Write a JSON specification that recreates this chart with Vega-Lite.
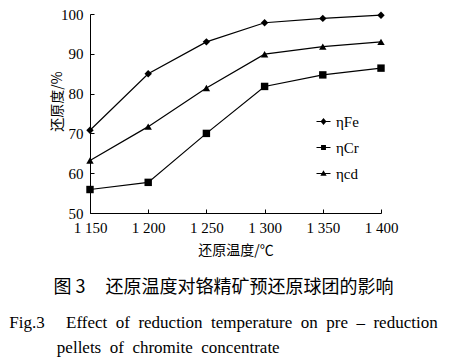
{
  "$schema": "https://vega.github.io/schema/vega-lite/v6.json",
  "width": 291,
  "height": 199,
  "autosize": {"type": "none"},
  "padding": {"left": 90, "top": 14, "right": 69, "bottom": 146},
  "background": "white",
  "config": {"view": {"stroke": null}},
  "data": {"values": [
    {"T": 1150, "series": "ηFe", "v": 70.8},
    {"T": 1200, "series": "ηFe", "v": 85.0},
    {"T": 1250, "series": "ηFe", "v": 93.0},
    {"T": 1300, "series": "ηFe", "v": 97.8},
    {"T": 1350, "series": "ηFe", "v": 98.9},
    {"T": 1400, "series": "ηFe", "v": 99.7},
    {"T": 1150, "series": "ηCr", "v": 55.9},
    {"T": 1200, "series": "ηCr", "v": 57.7},
    {"T": 1250, "series": "ηCr", "v": 70.0},
    {"T": 1300, "series": "ηCr", "v": 81.8},
    {"T": 1350, "series": "ηCr", "v": 84.7},
    {"T": 1400, "series": "ηCr", "v": 86.4},
    {"T": 1150, "series": "ηcd", "v": 63.2},
    {"T": 1200, "series": "ηcd", "v": 71.7},
    {"T": 1250, "series": "ηcd", "v": 81.4},
    {"T": 1300, "series": "ηcd", "v": 89.9},
    {"T": 1350, "series": "ηcd", "v": 91.8},
    {"T": 1400, "series": "ηcd", "v": 93.0}
  ]},
  "title": {
    "text": "图\u00a03\u00a0\u00a0\u00a0\u00a0\u00a0还原温度对铬精矿预还原球团的影响",
    "subtitle": [
      "Fig.3\u00a0\u00a0\u00a0\u00a0\u00a0Effect\u00a0\u00a0of\u00a0\u00a0reduction\u00a0\u00a0temperature\u00a0\u00a0on\u00a0\u00a0pre\u00a0\u00a0–\u00a0\u00a0reduction",
      "pellets\u00a0\u00a0of\u00a0\u00a0chromite\u00a0\u00a0concentrate\u00a0\u00a0\u00a0\u00a0\u00a0\u00a0\u00a0\u00a0\u00a0\u00a0\u00a0\u00a0\u00a0\u00a0\u00a0\u00a0\u00a0\u00a0\u00a0\u00a0\u00a0\u00a0\u00a0\u00a0\u00a0\u00a0\u200b"
    ],
    "orient": "bottom",
    "anchor": "middle",
    "dx": -12,
    "offset": 22,
    "font": "Noto Sans CJK SC",
    "fontSize": 18,
    "fontWeight": "normal",
    "color": "black",
    "subtitleFont": "Liberation Serif",
    "subtitleFontSize": 17,
    "subtitleColor": "black",
    "subtitleLineHeight": 25,
    "subtitlePadding": 18
  },
  "encoding": {
    "x": {
      "field": "T", "type": "quantitative",
      "scale": {"domain": [1150, 1400], "nice": false, "zero": false},
      "axis": {
        "values": [1150, 1200, 1250, 1300, 1350, 1400],
        "labelExpr": "floor(datum.value/1000) + ' ' + format(datum.value % 1000, '03d')",
        "title": "还原温度/℃",
        "titleFont": "Noto Sans CJK SC", "titleFontSize": 14, "titleFontWeight": "normal", "titleColor": "black",
        "titlePadding": 8,
        "labelFont": "Liberation Serif", "labelFontSize": 15, "labelColor": "black",
        "labelPadding": 11, "tickSize": -4, "tickColor": "black", "domainColor": "black",
        "grid": false, "labelFlush": false, "labelOverlap": false
      }
    },
    "y": {
      "field": "v", "type": "quantitative",
      "scale": {"domain": [50, 100], "nice": false, "zero": false},
      "axis": {
        "values": [50, 60, 70, 80, 90, 100],
        "title": "还原度/%",
        "titleFont": "Noto Sans CJK SC", "titleFontSize": 14, "titleFontWeight": "normal", "titleColor": "black",
        "titlePadding": -4,
        "titleY": 87,
        "labelFont": "Liberation Serif", "labelFontSize": 15, "labelColor": "black",
        "labelPadding": 11, "tickSize": -4, "tickColor": "black", "domainColor": "black",
        "grid": false, "labelFlush": false, "labelOverlap": false
      }
    }
  },
  "layer": [
    {
      "mark": {"type": "line", "color": "black", "strokeWidth": 1.2},
      "encoding": {"detail": {"field": "series"}}
    },
    {
      "mark": {"type": "point", "filled": true, "color": "black", "size": 55, "opacity": 1},
      "encoding": {
        "shape": {
          "field": "series", "type": "nominal",
          "scale": {"domain": ["ηFe", "ηCr", "ηcd"], "range": ["diamond", "square", "triangle-up"]},
          "legend": null
        }
      }
    },
    {
      "mark": {"type": "point", "filled": true, "fill": "black", "opacity": 0},
      "encoding": {
        "shape": {
          "field": "series", "type": "nominal",
          "scale": {"domain": ["ηFe", "ηCr", "ηcd"], "range": [
            "M-1,-0.07L1,-0.07L1,0.07L-1,0.07ZM0,-0.5L0.42,0L0,0.5L-0.42,0Z",
            "M-1,-0.07L1,-0.07L1,0.07L-1,0.07ZM-0.35,-0.35L0.35,-0.35L0.35,0.35L-0.35,0.35Z",
            "M-1,-0.07L1,-0.07L1,0.07L-1,0.07ZM0,-0.45L0.45,0.32L-0.45,0.32Z"
          ]},
          "legend": {
            "title": null,
            "orient": "none",
            "legendX": 226,
            "legendY": 100,
            "padding": 0,
            "symbolSize": 196,
            "symbolOpacity": 1,
            "symbolFillColor": "black",
            "symbolStrokeWidth": 0,
            "labelFont": "Liberation Serif",
            "labelFontSize": 15,
            "labelColor": "black",
            "labelOffset": 5,
            "rowPadding": 10
          }
        }
      }
    }
  ],
  "resolve": {"scale": {"shape": "independent"}, "legend": {"shape": "independent"}}
}
